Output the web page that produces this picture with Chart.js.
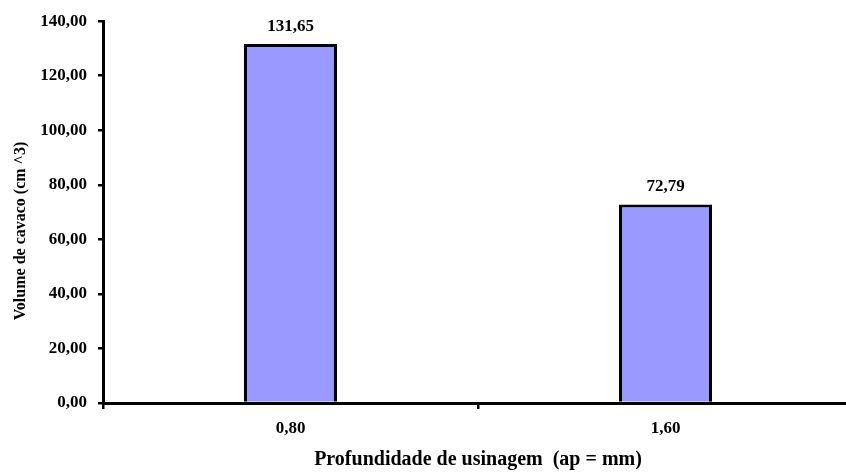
<!DOCTYPE html>
<html>
<head>
<meta charset="utf-8">
<script src="https://cdn.jsdelivr.net/npm/chart.js@4"></script>
<style>
	html, body { margin: 0; padding: 0; background: #fff; overflow: hidden; }
	#wrap { width: 853px; height: 472px; position: relative; }
</style>
</head>
<body>
<div id="wrap"><canvas id="myChart"></canvas></div>
<script>
	const categories = ['0,80', '1,60'];
	const volumes = [131.65, 72.79];
	const yTicks = [0, 20, 40, 60, 80, 100, 120, 140];

	const fmt = (v) => v.toFixed(2).replace('.', ',');
	const serif = '"Liberation Serif", "Times New Roman", serif';

	// value labels above each bar + y title placed like the original
	const extraText = {
		id: 'extraText',
		afterDatasetsDraw(chart) {
			const ctx = chart.ctx;
			const meta = chart.getDatasetMeta(0);
			ctx.save();
			ctx.font = 'bold 17px ' + serif;
			ctx.fillStyle = '#000';
			ctx.textAlign = 'center';
			ctx.textBaseline = 'alphabetic';
			meta.data.forEach((bar, i) => {
				ctx.fillText(fmt(volumes[i]), bar.x, bar.y - 13);
			});

			ctx.translate(21, 231);
			ctx.rotate(-Math.PI / 2);
			ctx.font = 'bold 16px ' + serif;
			ctx.textBaseline = 'middle';
			ctx.fillText('Volume de cavaco (cm ^3)', 0, 0);
			ctx.restore();
		},
	};

	var ctx = document.getElementById('myChart').getContext('2d');
	new Chart(ctx, {
		type: 'bar',
		data: {
			labels: categories,
			datasets: [
				{
					data: volumes,
					backgroundColor: '#9999FF',
					borderColor: '#000',
					borderWidth: 3,
					borderSkipped: 'bottom',
					categoryPercentage: 1,
					barPercentage: 0.248,
				},
			],
		},
		plugins: [extraText],
		options: {
			responsive: true,
			maintainAspectRatio: false,
			animation: false,
			layout: { padding: { top: 20, left: 0, right: 0, bottom: 0 } },
			plugins: {
				legend: { display: false },
				tooltip: { enabled: false },
			},
			scales: {
				x: {
					offset: true,
					afterFit(scale) { scale.height = 69; },
					border: { display: true, color: '#000', width: 3 },
					grid: {
						offset: true,
						drawOnChartArea: false,
						drawTicks: true,
						tickLength: 6,
						color: '#000',
						lineWidth: 2.5,
					},
					ticks: {
						color: '#000',
						padding: 9,
						font: { family: serif, weight: 'bold', size: 17 },
					},
					title: {
						display: true,
						text: 'Profundidade de usinagem  (ap = mm)',
						color: '#000',
						padding: { top: 0, bottom: 0 },
						font: { family: serif, weight: 'bold', size: 20 },
					},
				},
				y: {
					min: 0,
					max: 140,
					afterFit(scale) { scale.width = 103; },
					afterBuildTicks(scale) {
						scale.ticks = yTicks.map((v) => ({ value: v }));
					},
					border: { display: true, color: '#000', width: 3 },
					grid: {
						drawOnChartArea: false,
						drawTicks: true,
						tickLength: 5,
						color: '#000',
						lineWidth: 2.5,
					},
					ticks: {
						color: '#000',
						padding: 11,
						callback: (value) => fmt(value),
						font: { family: serif, weight: 'bold', size: 17 },
					},
				},
			},
		},
	});
</script>
</body>
</html>
